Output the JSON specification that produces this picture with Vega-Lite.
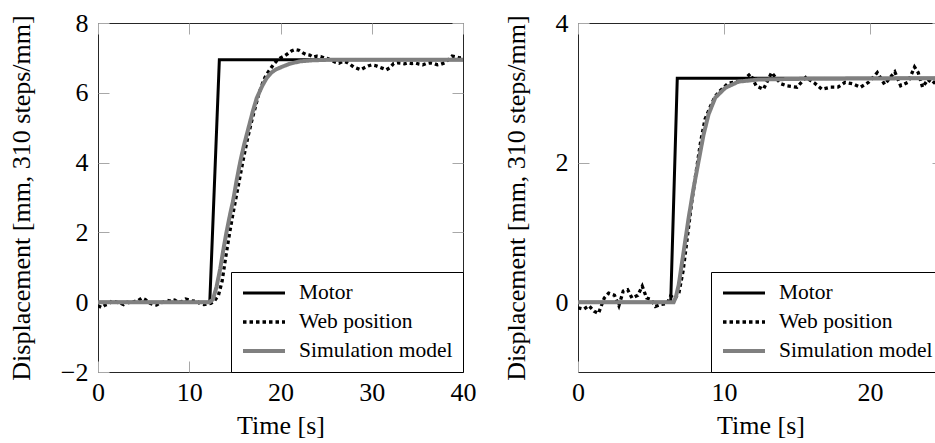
{
  "$schema": "https://vega.github.io/schema/vega-lite/v6.json",
  "padding": {"left": 7, "top": 9, "right": 0, "bottom": 0},
  "background": "white",
  "config": {
    "font": "Liberation Serif",
    "view": {"stroke": "#262626", "strokeWidth": 1},
    "axis": {"domain": false, "grid": false, "tickColor": "#a8a8a8", "tickWidth": 1, "tickSize": -11, "labelFont": "Liberation Serif", "titleFont": "Liberation Serif", "labelFontSize": 26, "titleFontSize": 26, "titleFontWeight": "normal", "labelColor": "#000000", "titleColor": "#000000", "minExtent": 0, "labelFlush": false, "labelOverlap": false},
    "axisX": {"labelPadding": 18, "titlePadding": 7},
    "axisY": {"labelPadding": 21, "titlePadding": 26},
    "legend": {"orient": "bottom-right", "offset": 0, "padding": 10, "strokeColor": "#000000", "fillColor": "#ffffff", "labelFont": "Liberation Serif", "labelFontSize": 21.5, "labelColor": "#000000", "symbolType": "stroke", "symbolSize": 1764, "clipHeight": 22, "rowPadding": 7, "labelOffset": 12, "labelLimit": 400}
  },
  "datasets": {
    "left": [
      {"series": "Motor", "t": 0, "v": 0}, {"series": "Motor", "t": 12.25, "v": 0}, {"series": "Motor", "t": 13.3, "v": 6.95}, {"series": "Motor", "t": 40, "v": 6.95},
      {"series": "Web position", "t": 0, "v": -0.1}, {"series": "Web position", "t": 0.4, "v": -0.15}, {"series": "Web position", "t": 0.8, "v": -0.08}, {"series": "Web position", "t": 1.2, "v": -0.05}, {"series": "Web position", "t": 1.6, "v": 0.05}, {"series": "Web position", "t": 2.0, "v": 0.0}, {"series": "Web position", "t": 2.4, "v": -0.02}, {"series": "Web position", "t": 2.8, "v": -0.07}, {"series": "Web position", "t": 3.2, "v": 0.0}, {"series": "Web position", "t": 3.6, "v": -0.03}, {"series": "Web position", "t": 4.0, "v": 0.02}, {"series": "Web position", "t": 4.4, "v": 0.05}, {"series": "Web position", "t": 4.8, "v": 0.12}, {"series": "Web position", "t": 5.2, "v": 0.07}, {"series": "Web position", "t": 5.6, "v": -0.02}, {"series": "Web position", "t": 6.0, "v": -0.06}, {"series": "Web position", "t": 6.4, "v": -0.08}, {"series": "Web position", "t": 6.8, "v": -0.02}, {"series": "Web position", "t": 7.2, "v": 0.0}, {"series": "Web position", "t": 7.6, "v": 0.05}, {"series": "Web position", "t": 8.0, "v": 0.03}, {"series": "Web position", "t": 8.4, "v": 0.06}, {"series": "Web position", "t": 8.8, "v": 0.0}, {"series": "Web position", "t": 9.2, "v": 0.02}, {"series": "Web position", "t": 9.6, "v": 0.09}, {"series": "Web position", "t": 10.0, "v": 0.06}, {"series": "Web position", "t": 10.4, "v": 0.03}, {"series": "Web position", "t": 10.8, "v": 0.05}, {"series": "Web position", "t": 11.2, "v": -0.05}, {"series": "Web position", "t": 11.6, "v": -0.07}, {"series": "Web position", "t": 12.0, "v": -0.05}, {"series": "Web position", "t": 12.4, "v": -0.03}, {"series": "Web position", "t": 12.8, "v": 0.05}, {"series": "Web position", "t": 13.2, "v": 0.2}, {"series": "Web position", "t": 13.6, "v": 0.6}, {"series": "Web position", "t": 14.0, "v": 1.3}, {"series": "Web position", "t": 14.4, "v": 1.95}, {"series": "Web position", "t": 14.8, "v": 2.55}, {"series": "Web position", "t": 15.2, "v": 3.1}, {"series": "Web position", "t": 15.6, "v": 3.65}, {"series": "Web position", "t": 16.0, "v": 4.2}, {"series": "Web position", "t": 16.4, "v": 4.7}, {"series": "Web position", "t": 16.8, "v": 5.15}, {"series": "Web position", "t": 17.2, "v": 5.55}, {"series": "Web position", "t": 17.6, "v": 5.95}, {"series": "Web position", "t": 18.0, "v": 6.25}, {"series": "Web position", "t": 18.4, "v": 6.5}, {"series": "Web position", "t": 18.8, "v": 6.65}, {"series": "Web position", "t": 19.2, "v": 6.8}, {"series": "Web position", "t": 19.6, "v": 6.92}, {"series": "Web position", "t": 20.0, "v": 7.0}, {"series": "Web position", "t": 20.4, "v": 7.05}, {"series": "Web position", "t": 20.8, "v": 7.12}, {"series": "Web position", "t": 21.2, "v": 7.2}, {"series": "Web position", "t": 21.6, "v": 7.24}, {"series": "Web position", "t": 22.0, "v": 7.22}, {"series": "Web position", "t": 22.4, "v": 7.15}, {"series": "Web position", "t": 22.8, "v": 7.1}, {"series": "Web position", "t": 23.2, "v": 7.08}, {"series": "Web position", "t": 23.6, "v": 7.02}, {"series": "Web position", "t": 24.0, "v": 7.05}, {"series": "Web position", "t": 24.4, "v": 7.04}, {"series": "Web position", "t": 24.8, "v": 7.0}, {"series": "Web position", "t": 25.2, "v": 6.98}, {"series": "Web position", "t": 25.6, "v": 6.93}, {"series": "Web position", "t": 26.0, "v": 6.88}, {"series": "Web position", "t": 26.4, "v": 6.85}, {"series": "Web position", "t": 26.8, "v": 6.9}, {"series": "Web position", "t": 27.2, "v": 6.88}, {"series": "Web position", "t": 27.6, "v": 6.82}, {"series": "Web position", "t": 28.0, "v": 6.74}, {"series": "Web position", "t": 28.4, "v": 6.7}, {"series": "Web position", "t": 28.8, "v": 6.66}, {"series": "Web position", "t": 29.2, "v": 6.72}, {"series": "Web position", "t": 29.6, "v": 6.77}, {"series": "Web position", "t": 30.0, "v": 6.8}, {"series": "Web position", "t": 30.4, "v": 6.78}, {"series": "Web position", "t": 30.8, "v": 6.74}, {"series": "Web position", "t": 31.2, "v": 6.7}, {"series": "Web position", "t": 31.6, "v": 6.66}, {"series": "Web position", "t": 32.0, "v": 6.72}, {"series": "Web position", "t": 32.4, "v": 6.84}, {"series": "Web position", "t": 32.8, "v": 6.86}, {"series": "Web position", "t": 33.2, "v": 6.85}, {"series": "Web position", "t": 33.6, "v": 6.83}, {"series": "Web position", "t": 34.0, "v": 6.86}, {"series": "Web position", "t": 34.4, "v": 6.84}, {"series": "Web position", "t": 34.8, "v": 6.85}, {"series": "Web position", "t": 35.2, "v": 6.82}, {"series": "Web position", "t": 35.6, "v": 6.8}, {"series": "Web position", "t": 36.0, "v": 6.84}, {"series": "Web position", "t": 36.4, "v": 6.86}, {"series": "Web position", "t": 36.8, "v": 6.84}, {"series": "Web position", "t": 37.2, "v": 6.8}, {"series": "Web position", "t": 37.6, "v": 6.82}, {"series": "Web position", "t": 38.0, "v": 6.86}, {"series": "Web position", "t": 38.4, "v": 6.95}, {"series": "Web position", "t": 38.8, "v": 7.05}, {"series": "Web position", "t": 39.2, "v": 7.03}, {"series": "Web position", "t": 39.6, "v": 7.0}, {"series": "Web position", "t": 40.0, "v": 7.02},
      {"series": "Simulation model", "t": 0, "v": 0}, {"series": "Simulation model", "t": 12.2, "v": 0}, {"series": "Simulation model", "t": 12.6, "v": 0.08}, {"series": "Simulation model", "t": 13.0, "v": 0.45}, {"series": "Simulation model", "t": 13.4, "v": 0.97}, {"series": "Simulation model", "t": 13.8, "v": 1.6}, {"series": "Simulation model", "t": 14.1, "v": 2.03}, {"series": "Simulation model", "t": 14.5, "v": 2.55}, {"series": "Simulation model", "t": 14.8, "v": 2.9}, {"series": "Simulation model", "t": 15.2, "v": 3.5}, {"series": "Simulation model", "t": 15.6, "v": 4.04}, {"series": "Simulation model", "t": 16.0, "v": 4.5}, {"series": "Simulation model", "t": 16.5, "v": 5.0}, {"series": "Simulation model", "t": 17.0, "v": 5.5}, {"series": "Simulation model", "t": 17.4, "v": 5.85}, {"series": "Simulation model", "t": 18.0, "v": 6.2}, {"series": "Simulation model", "t": 18.5, "v": 6.43}, {"series": "Simulation model", "t": 19.0, "v": 6.58}, {"series": "Simulation model", "t": 19.5, "v": 6.67}, {"series": "Simulation model", "t": 20.3, "v": 6.76}, {"series": "Simulation model", "t": 21.0, "v": 6.83}, {"series": "Simulation model", "t": 22.1, "v": 6.9}, {"series": "Simulation model", "t": 23.5, "v": 6.93}, {"series": "Simulation model", "t": 25.7, "v": 6.95}, {"series": "Simulation model", "t": 40, "v": 6.95}
    ],
    "right": [
      {"series": "Motor", "t": 0, "v": 0}, {"series": "Motor", "t": 6.35, "v": 0}, {"series": "Motor", "t": 6.8, "v": 3.21}, {"series": "Motor", "t": 25, "v": 3.21},
      {"series": "Web position", "t": 0, "v": -0.08}, {"series": "Web position", "t": 0.4, "v": -0.1}, {"series": "Web position", "t": 0.75, "v": -0.05}, {"series": "Web position", "t": 1.1, "v": -0.13}, {"series": "Web position", "t": 1.4, "v": -0.16}, {"series": "Web position", "t": 1.8, "v": 0.06}, {"series": "Web position", "t": 2.1, "v": 0.13}, {"series": "Web position", "t": 2.5, "v": 0.1}, {"series": "Web position", "t": 2.8, "v": -0.05}, {"series": "Web position", "t": 3.1, "v": 0.16}, {"series": "Web position", "t": 3.4, "v": 0.18}, {"series": "Web position", "t": 3.7, "v": 0.06}, {"series": "Web position", "t": 4.1, "v": 0.1}, {"series": "Web position", "t": 4.4, "v": 0.23}, {"series": "Web position", "t": 4.7, "v": 0.06}, {"series": "Web position", "t": 5.0, "v": 0.04}, {"series": "Web position", "t": 5.3, "v": -0.06}, {"series": "Web position", "t": 5.7, "v": -0.03}, {"series": "Web position", "t": 6.1, "v": -0.02}, {"series": "Web position", "t": 6.35, "v": 0.09}, {"series": "Web position", "t": 6.6, "v": 0.05}, {"series": "Web position", "t": 6.9, "v": 0.12}, {"series": "Web position", "t": 7.2, "v": 0.45}, {"series": "Web position", "t": 7.5, "v": 0.95}, {"series": "Web position", "t": 7.8, "v": 1.45}, {"series": "Web position", "t": 8.1, "v": 1.88}, {"series": "Web position", "t": 8.4, "v": 2.3}, {"series": "Web position", "t": 8.7, "v": 2.62}, {"series": "Web position", "t": 9.06, "v": 2.8}, {"series": "Web position", "t": 9.4, "v": 2.95}, {"series": "Web position", "t": 9.74, "v": 3.03}, {"series": "Web position", "t": 10.3, "v": 3.14}, {"series": "Web position", "t": 11.0, "v": 3.16}, {"series": "Web position", "t": 11.4, "v": 3.2}, {"series": "Web position", "t": 11.8, "v": 3.27}, {"series": "Web position", "t": 12.2, "v": 3.1}, {"series": "Web position", "t": 12.7, "v": 3.05}, {"series": "Web position", "t": 13.26, "v": 3.29}, {"series": "Web position", "t": 13.6, "v": 3.2}, {"series": "Web position", "t": 13.9, "v": 3.13}, {"series": "Web position", "t": 14.3, "v": 3.1}, {"series": "Web position", "t": 15.0, "v": 3.08}, {"series": "Web position", "t": 15.6, "v": 3.22}, {"series": "Web position", "t": 16.2, "v": 3.14}, {"series": "Web position", "t": 16.7, "v": 3.05}, {"series": "Web position", "t": 17.3, "v": 3.08}, {"series": "Web position", "t": 17.8, "v": 3.08}, {"series": "Web position", "t": 18.3, "v": 3.15}, {"series": "Web position", "t": 18.8, "v": 3.13}, {"series": "Web position", "t": 19.35, "v": 3.08}, {"series": "Web position", "t": 19.9, "v": 3.15}, {"series": "Web position", "t": 20.5, "v": 3.29}, {"series": "Web position", "t": 21.0, "v": 3.12}, {"series": "Web position", "t": 21.7, "v": 3.3}, {"series": "Web position", "t": 22.1, "v": 3.1}, {"series": "Web position", "t": 22.6, "v": 3.15}, {"series": "Web position", "t": 23.05, "v": 3.37}, {"series": "Web position", "t": 23.3, "v": 3.29}, {"series": "Web position", "t": 23.6, "v": 3.08}, {"series": "Web position", "t": 23.96, "v": 3.19}, {"series": "Web position", "t": 24.3, "v": 3.13}, {"series": "Web position", "t": 24.7, "v": 3.22}, {"series": "Web position", "t": 25.0, "v": 3.18},
      {"series": "Simulation model", "t": 0, "v": 0}, {"series": "Simulation model", "t": 6.55, "v": 0}, {"series": "Simulation model", "t": 6.7, "v": 0.07}, {"series": "Simulation model", "t": 6.9, "v": 0.25}, {"series": "Simulation model", "t": 7.24, "v": 0.73}, {"series": "Simulation model", "t": 7.58, "v": 1.21}, {"series": "Simulation model", "t": 7.92, "v": 1.64}, {"series": "Simulation model", "t": 8.26, "v": 2.02}, {"series": "Simulation model", "t": 8.6, "v": 2.4}, {"series": "Simulation model", "t": 8.94, "v": 2.69}, {"series": "Simulation model", "t": 9.4, "v": 2.93}, {"series": "Simulation model", "t": 10.08, "v": 3.07}, {"series": "Simulation model", "t": 10.99, "v": 3.16}, {"series": "Simulation model", "t": 12.35, "v": 3.19}, {"series": "Simulation model", "t": 15.3, "v": 3.2}, {"series": "Simulation model", "t": 25, "v": 3.21}
    ]
  },
  "spacing": 25,
  "hconcat": [
    {
      "width": 365, "height": 349,
      "data": {"name": "left"},
      "layer": [
        {
          "mark": {"type": "line", "strokeCap": "butt", "clip": true},
          "encoding": {
            "x": {"field": "t", "type": "quantitative", "scale": {"domain": [0, 40], "nice": false, "zero": false}, "axis": {"orient": "bottom", "values": [0, 10, 20, 30, 40], "title": "Time [s]"}},
            "y": {"field": "v", "type": "quantitative", "scale": {"domain": [-2, 8], "nice": false, "zero": false}, "axis": {"orient": "left", "values": [-2, 0, 2, 4, 6, 8], "title": "Displacement [mm, 310 steps/mm]"}},
            "color": {"field": "series", "type": "nominal", "scale": {"domain": ["Motor", "Web position", "Simulation model"], "range": ["#000000", "#000000", "#808080"]}, "legend": {"title": null}},
            "strokeDash": {"field": "series", "type": "nominal", "scale": {"domain": ["Motor", "Web position", "Simulation model"], "range": [[1, 0], [3.5, 3], [1, 0]]}, "legend": {"title": null}},
            "strokeWidth": {"field": "series", "type": "nominal", "scale": {"type": "ordinal", "domain": ["Motor", "Web position", "Simulation model"], "range": [3, 3.3, 4]}, "legend": {"title": null}}
          }
        },
        {
          "mark": {"type": "point", "opacity": 0},
          "encoding": {
            "x": {"field": "t", "type": "quantitative", "axis": {"orient": "top", "values": [0, 10, 20, 30, 40], "labels": false, "title": null}},
            "y": {"field": "v", "type": "quantitative", "axis": {"orient": "right", "values": [-2, 0, 2, 4, 6, 8], "labels": false, "title": null}}
          }
        }
      ],
      "resolve": {"axis": {"x": "independent", "y": "independent"}}
    },
    {
      "width": 365, "height": 349,
      "data": {"name": "right"},
      "layer": [
        {
          "mark": {"type": "line", "strokeCap": "butt", "clip": true},
          "encoding": {
            "x": {"field": "t", "type": "quantitative", "scale": {"domain": [0, 25], "nice": false, "zero": false}, "axis": {"orient": "bottom", "values": [0, 10, 20], "title": "Time [s]"}},
            "y": {"field": "v", "type": "quantitative", "scale": {"domain": [-1, 4], "nice": false, "zero": false}, "axis": {"orient": "left", "values": [0, 2, 4], "title": "Displacement [mm, 310 steps/mm]"}},
            "color": {"field": "series", "type": "nominal", "scale": {"domain": ["Motor", "Web position", "Simulation model"], "range": ["#000000", "#000000", "#808080"]}, "legend": {"title": null}},
            "strokeDash": {"field": "series", "type": "nominal", "scale": {"domain": ["Motor", "Web position", "Simulation model"], "range": [[1, 0], [3.5, 3], [1, 0]]}, "legend": {"title": null}},
            "strokeWidth": {"field": "series", "type": "nominal", "scale": {"type": "ordinal", "domain": ["Motor", "Web position", "Simulation model"], "range": [3, 3.3, 4]}, "legend": {"title": null}}
          }
        },
        {
          "mark": {"type": "point", "opacity": 0},
          "encoding": {
            "x": {"field": "t", "type": "quantitative", "axis": {"orient": "top", "values": [0, 10, 20], "labels": false, "title": null}},
            "y": {"field": "v", "type": "quantitative", "axis": {"orient": "right", "values": [0, 2, 4], "labels": false, "title": null}}
          }
        }
      ],
      "resolve": {"axis": {"x": "independent", "y": "independent"}}
    }
  ],
  "resolve": {
    "scale": {"color": "independent", "strokeDash": "independent", "strokeWidth": "independent"},
    "legend": {"color": "independent", "strokeDash": "independent", "strokeWidth": "independent"}
  }
}
